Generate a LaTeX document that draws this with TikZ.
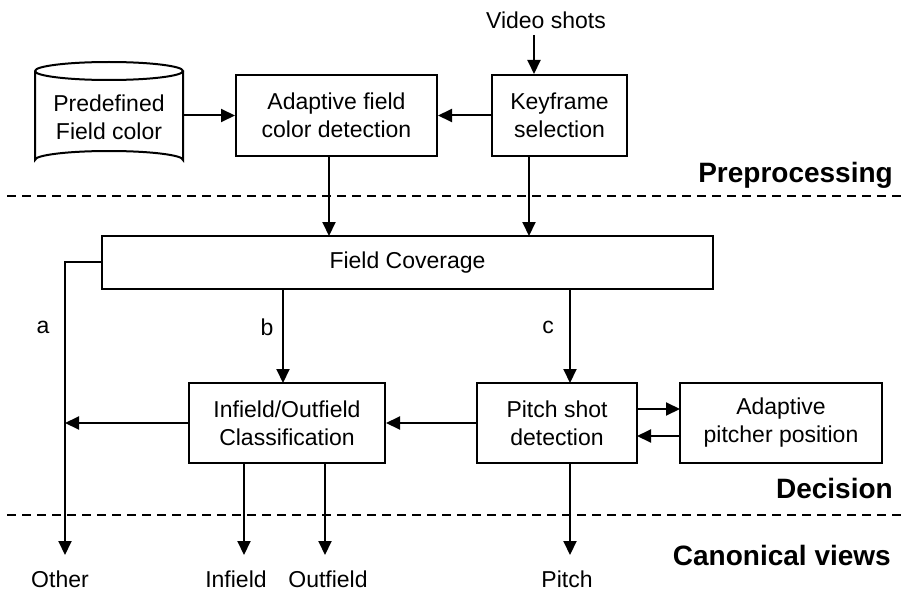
\documentclass[tikz,border=0pt]{standalone}
\usepackage{fontspec}
\setmainfont{Liberation Sans}
\usetikzlibrary{arrows.meta}
\begin{document}
\begin{tikzpicture}[x=1pt,y=-1pt,
  box/.style={draw, line width=2pt, align=center, inner sep=0pt, font=\fontsize{23}{28}\selectfont},
  txt/.style={inner sep=0pt, font=\fontsize{23}{28}\selectfont},
  outtxt/.style={inner sep=0pt, anchor=base, font=\fontsize{23}{28}\selectfont},
  sect/.style={inner sep=0pt, anchor=base east, font=\fontsize{28}{32}\selectfont\bfseries},
  arr/.style={line width=2pt, -{Triangle[length=14pt,width=13pt]}},
  sep/.style={line width=1.6pt, dash pattern=on 9pt off 6pt}]
\useasboundingbox (0,0) rectangle (907,591);
% separators
\coordinate (s1l) at (7,196); \coordinate (s1r) at (907,196);
\coordinate (s2l) at (7,515); \coordinate (s2r) at (907,515);
\draw[sep] (s1l) -- (s1r);
\draw[sep] (s2l) -- (s2r);
\node[sect] (pre) at (893,182) {Preprocessing};
\node[sect] (dec) at (893,498) {Decision};
\node[sect] (can) at (891,565) {Canonical views};
% cylinder
\node[txt, align=center, minimum width=148pt, minimum height=98pt] (cyl) at (109,117) {Predefined\\Field color};
\draw[line width=2pt] (35,71) arc[start angle=180, end angle=-180, x radius=74, y radius=9]
  (35,71) -- (35,160) arc[start angle=180, end angle=360, x radius=74, y radius=9] -- (183,71);
% boxes
\node[box, minimum width=201pt, minimum height=81pt] (afc) at (336.5,115.5) {Adaptive field\\color detection};
\node[box, minimum width=135pt, minimum height=81pt] (key) at (559.5,115.5) {Keyframe\\selection};
\node[txt] (video) at (546,20) {Video shots};
\node[box, minimum width=611pt, minimum height=53pt] (fc) at (407.5,262.5) {Field Coverage};
\node[box, minimum width=196pt, minimum height=80pt] (io) at (287,423) {Infield/Outfield\\Classification};
\node[box, minimum width=160pt, minimum height=80pt] (ps) at (557,423) {Pitch shot\\detection};
\node[box, minimum width=202pt, minimum height=80pt] (app) at (781,423) {Adaptive\\pitcher position};
% outputs
\node[outtxt] (other) at (60,587) {Other};
\node[outtxt] (infield) at (236,587) {Infield};
\node[outtxt] (outfield) at (328,587) {Outfield};
\node[outtxt] (pitch) at (567,587) {Pitch};
% labels
\node[txt] (la) at (43,327) {a};
\node[txt] (lb) at (267,327) {b};
\node[txt] (lc) at (548,327) {c};
% connectors
\coordinate (vtop) at (534,35);
\draw[arr] (vtop) -- (vtop |- key.north);
\draw[arr] (cyl.east |- afc.west) -- (afc.west);
\draw[arr] (key.west) -- (afc.east);
\draw[arr] (329,156) -- (329,236);
\draw[arr] (529,156) -- (529,236);
\coordinate (acorner) at (65,262);
\coordinate (aend) at (65,555);
\draw[arr] (fc.west |- acorner) -- (acorner) -- (aend);
\draw[arr] (io.west) -- (acorner |- io.west);
\draw[arr] (283,289) -- (283,383);
\draw[arr] (570,289) -- (570,383);
\draw[arr] (ps.west) -- (io.east);
\draw[arr] (637,409) -- (680,409);
\draw[arr] (680,436) -- (637,436);
\draw[arr] (244,463) -- (244,555);
\draw[arr] (325,463) -- (325,555);
\draw[arr] (570,463) -- (570,555);
\end{tikzpicture}
\end{document}
